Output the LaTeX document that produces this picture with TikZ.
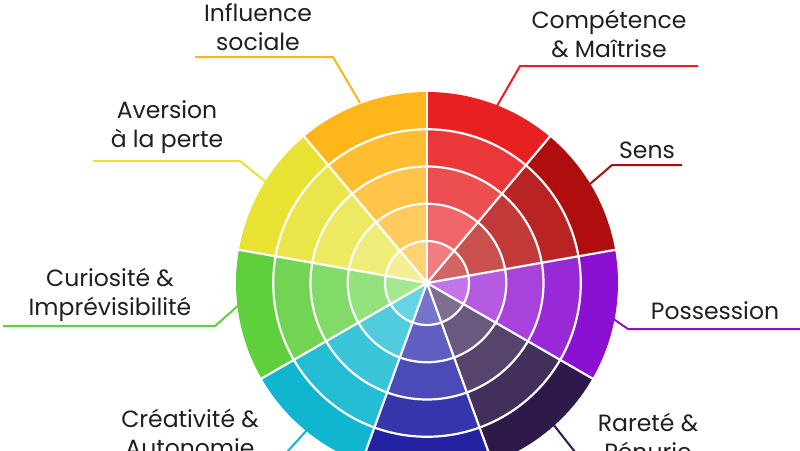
\documentclass[tikz,border=0pt]{standalone}
\usepackage{fontspec}
\setmainfont{Poppins}
\begin{document}
\begin{tikzpicture}[x=1pt,y=-1pt,
  lab/.style={font=\fontsize{23.5}{29}\selectfont, text=black!88, inner sep=0, align=center},
  lead/.style={line width=2pt}]
\useasboundingbox (0,0) rectangle (800,450);
\clip (0,0) rectangle (800,450);
\def\cx{427}\def\cy{283}
\definecolor{o1}{HTML}{E82022}\definecolor{i1}{HTML}{F27C80}
\definecolor{o2}{HTML}{B00E0E}\definecolor{i2}{HTML}{D36464}
\definecolor{o3}{HTML}{8C10D2}\definecolor{i3}{HTML}{C274E8}
\definecolor{o4}{HTML}{2E1A4A}\definecolor{i4}{HTML}{7E6E90}
\definecolor{o5}{HTML}{2222A2}\definecolor{i5}{HTML}{7474CC}
\definecolor{o6}{HTML}{10B6D0}\definecolor{i6}{HTML}{66D4E2}
\definecolor{o7}{HTML}{60CF3E}\definecolor{i7}{HTML}{A4E892}
\definecolor{o8}{HTML}{E8E232}\definecolor{i8}{HTML}{F2F092}
\definecolor{o9}{HTML}{FFB61A}\definecolor{i9}{HTML}{FFD276}
\coordinate (C) at (\cx,\cy);
\foreach \s in {1,...,9}{
  \pgfmathsetmacro{\a}{90-40*\s}
  \pgfmathsetmacro{\b}{\a+40}
  \foreach \k in {4,3,2,1,0}{
    \pgfmathsetmacro{\r}{42+37.25*\k}
    \pgfmathsetmacro{\p}{\k*25}
    \fill[color=o\s!\p!i\s] (C) -- ++(-\a:\r) arc[start angle=-\a, end angle=-\b, radius=\r] -- cycle;
  }
}
\foreach \k in {0,...,3}{
  \pgfmathsetmacro{\r}{42+37.25*\k}
  \draw[white, line width=2.2pt] (C) circle[radius=\r];
}
\foreach \s in {0,...,8}{
  \draw[white, line width=2.2pt] (C) -- ++({-(90-40*\s)}:192);
}
\node[lab] (inf) at (258,27) {Influence\\sociale};
\node[lab] (ave) at (167,127) {Aversion\\à la perte};
\node[lab] (cur) at (110,295) {Curiosité \&\\Imprévisibilité};
\node[lab] (cre) at (190,433) {Créativité \&\\Autonomie};
\node[lab] (com) at (609,34) {Compétence\\\& Maîtrise};
\node[lab] (sen) at (647,150) {Sens};
\node[lab] (pos) at (715,311) {Possession};
\node[lab] (rar) at (648,437) {Rareté \&\\Pénurie};
\coordinate (e9) at (360,103);\coordinate (e8) at (266,182);\coordinate (e7) at (240,304);
\coordinate (e6) at (307,430);\coordinate (e1) at (497,106);\coordinate (e2) at (590,184);
\coordinate (e3) at (612,318);\coordinate (e4) at (553,424);
\draw[lead,o9] (195,57) -- (333,57) -- (e9);
\draw[lead,o8] (93,161) -- (240,161) -- (e8);
\draw[lead,o7] (3,326) -- (215,326) -- (e7);
\draw[lead,o6] (e6) -- (287,452);
\draw[lead,o1] (698,66) -- (520,66) -- (e1);
\draw[lead,o2] (682,165) -- (612,165) -- (e2);
\draw[lead,o3] (e3) -- (628,329) -- (800,329);
\draw[lead,o4] (e4) -- (575,452);
\end{tikzpicture}
\end{document}
